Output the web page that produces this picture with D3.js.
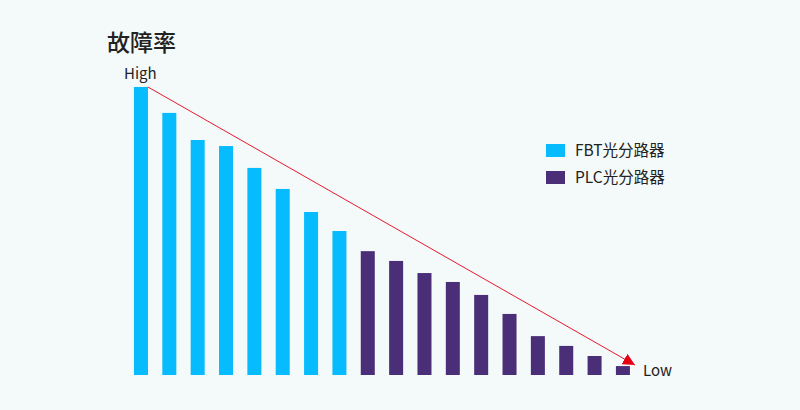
<!DOCTYPE html>
<html>
<head>
<meta charset="utf-8">
<script src="https://cdn.jsdelivr.net/npm/d3@7/dist/d3.min.js"></script>
<style>
  html, body { margin: 0; padding: 0; background: #f4f9f9; }
  svg { display: block; }
</style>
</head>
<body>
<div id="chart"></div>
<script>
const categories = ["1","2","3","4","5","6","7","8","9","10","11","12","13","14","15","16","17","18"];
const values = [100, 91, 81.6, 79.5, 71.9, 64.6, 56.6, 50, 43, 39.6, 35.4, 32.3, 27.8, 21.2, 13.5, 10.1, 6.6, 3.1];
const seriesOf = ["FBT","FBT","FBT","FBT","FBT","FBT","FBT","FBT","PLC","PLC","PLC","PLC","PLC","PLC","PLC","PLC","PLC","PLC"];
const seriesNames = ["FBT光分路器", "PLC光分路器"];
const seriesKeys = ["FBT", "PLC"];
const title = "故障率";
const highLabel = "High";
const lowLabel = "Low";

const W = 800, H = 410;
const font = "'Noto Sans CJK SC', 'Noto Sans', sans-serif";
const color = d3.scaleOrdinal().domain(seriesKeys).range(["#06bcfe", "#4a2f78"]);

const svg = d3.select("#chart").append("svg").attr("width", W).attr("height", H);
svg.append("rect").attr("width", W).attr("height", H).attr("fill", "#f4f9f9");

const x = d3.scaleBand().domain(categories).range([126.8, 637.1]).paddingInner(0.506).paddingOuter(0.253);
const y = d3.scaleLinear().domain([0, 100]).range([375, 87]);

svg.append("g").selectAll("rect").data(values).join("rect")
  .attr("x", (d, i) => x(categories[i]))
  .attr("y", d => y(d))
  .attr("width", x.bandwidth())
  .attr("height", d => y(0) - y(d))
  .attr("fill", (d, i) => color(seriesOf[i]));

// arrow
const defs = svg.append("defs");
defs.append("marker").attr("id", "arr")
  .attr("viewBox", "0 0 12 12").attr("refX", 12).attr("refY", 6)
  .attr("markerWidth", 12).attr("markerHeight", 12)
  .attr("markerUnits", "userSpaceOnUse").attr("orient", "auto")
  .append("path").attr("d", "M0,0 L12,6 L0,12 Z").attr("fill", "#e60012");

const first = 0, last = values.length - 1;
svg.append("line")
  .attr("x1", x(categories[first]) + x.bandwidth())
  .attr("y1", y(values[first]))
  .attr("x2", x(categories[last]) + x.bandwidth() + 5)
  .attr("y2", y(0) - 10)
  .attr("stroke", "#e8192c").attr("stroke-width", 1)
  .attr("marker-end", "url(#arr)");

svg.append("text").attr("x", 107).attr("y", 51).text(title)
  .attr("font-family", font).attr("font-size", 23).attr("font-weight", 500).attr("fill", "#222");
svg.append("text").attr("x", 124).attr("y", 79).text(highLabel)
  .attr("font-family", font).attr("font-size", 15).attr("fill", "#222");
svg.append("text").attr("x", 643).attr("y", 376).text(lowLabel)
  .attr("font-family", font).attr("font-size", 15).attr("fill", "#222");

const legend = svg.append("g").selectAll("g").data(seriesKeys).join("g")
  .attr("transform", (d, i) => `translate(546, ${144 + i * 27})`);
legend.append("rect").attr("width", 19).attr("height", 13).attr("fill", d => color(d));
legend.append("text").attr("x", 29).attr("y", 12).text((d, i) => seriesNames[i])
  .attr("font-family", font).attr("font-size", 15.5).attr("fill", "#222");
</script>
</body>
</html>
